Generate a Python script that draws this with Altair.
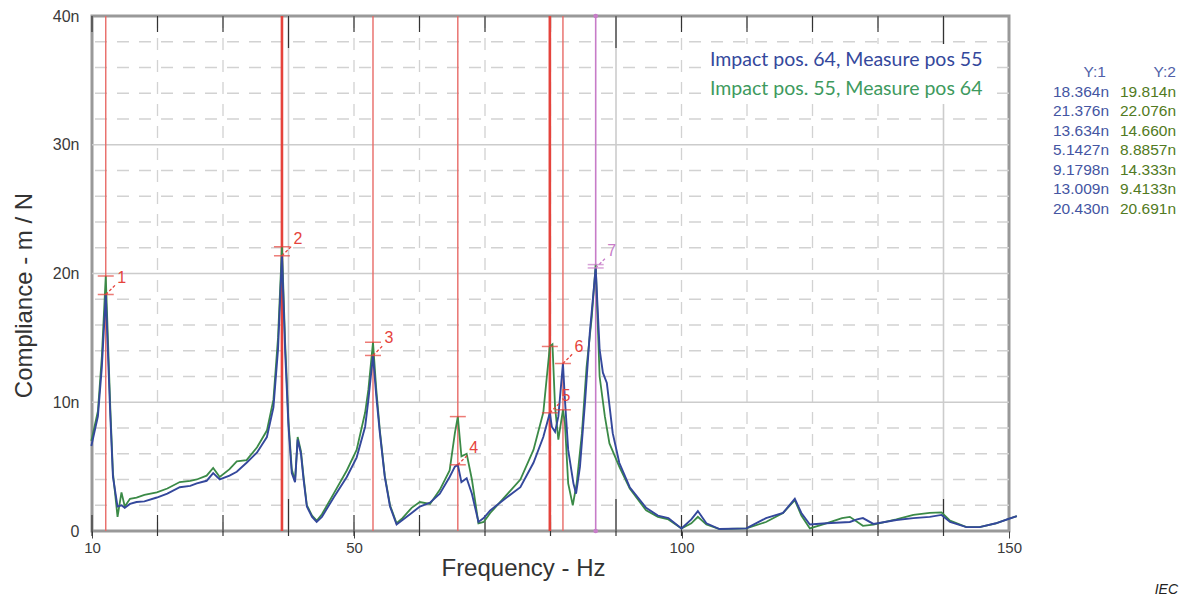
import altair as alt
import pandas as pd

# ---------------- data ----------------
blue_f = [9.9, 10.9, 11.5, 12.1, 12.8, 13.2, 13.9, 14.5, 15.0, 15.8, 16.8, 18.0, 19.9, 21.5, 23.4,
          25.0, 26.0, 27.5, 28.5, 29.5, 31.0, 32.1, 33.6, 35.2, 36.7, 37.7, 38.4, 39.0, 39.5, 40.0,
          40.5, 41.0, 41.4, 41.9, 42.3, 42.8, 43.6, 44.3, 45.1, 46.9, 48.9, 50.4, 51.7, 52.2, 52.9,
          53.4, 53.95, 54.7, 55.5, 56.5, 57.4, 58.8, 60.05, 61.6, 63.1, 64.6, 65.4, 65.85, 66.4, 67.2,
          68.0, 69.0, 69.8, 70.8, 73.3, 75.4, 77.4, 78.9, 79.9, 80.2, 80.7, 81.2, 81.9, 82.2, 82.7,
          83.5, 83.9, 84.5, 85.3, 86.0, 86.9, 87.5, 88.0, 88.6, 89.5, 90.5, 92.1, 94.6, 96.4, 98.0,
          100.0, 101.5, 102.5, 103.8, 105.8, 109.9, 112.9, 115.5, 117.3, 118.3, 119.6, 122.1, 125.7,
          126.8, 127.7, 129.3, 132.8, 135.4, 137.9, 139.7, 141.0, 143.5, 145.5, 148.0, 150.0, 151.2]
blue_v = [6.6, 8.9, 12.7, 18.36, 8.9, 4.2, 1.9, 2.0, 1.8, 2.1, 2.25, 2.3, 2.6, 2.9, 3.4,
          3.5, 3.7, 3.9, 4.5, 4.0, 4.3, 4.6, 5.3, 6.1, 7.3, 9.6, 14.1, 21.38, 13.8, 8.1,
          4.5, 3.8, 7.1, 6.0, 4.0, 1.9, 1.1, 0.7, 1.1, 2.6, 4.2, 5.7, 8.1, 10.2, 13.63,
          10.5, 7.6, 4.2, 1.9, 0.5, 0.85, 1.4, 1.9, 2.2, 2.9, 4.2, 5.0, 5.14, 3.8, 4.1,
          2.9, 0.7, 1.0, 1.6, 2.6, 3.4, 5.3, 7.3, 9.18, 8.1, 7.7, 8.9, 13.01, 10.2, 6.3,
          3.7, 2.9, 5.0, 10.2, 15.4, 20.43, 14.1, 12.3, 11.5, 7.6, 5.3, 3.4, 1.8, 1.2, 1.0,
          0.2, 0.9, 1.55, 0.6, 0.15, 0.2, 1.0, 1.4, 2.5, 1.4, 0.5, 0.6, 0.7,
          0.9, 1.0, 0.55, 0.85, 1.0, 1.1, 1.25, 0.7, 0.3, 0.3, 0.6, 0.95, 1.15]

green_f = [9.9, 10.9, 11.5, 12.1, 12.8, 13.2, 13.9, 14.5, 15.0, 15.8, 16.8, 18.0, 19.9, 21.5, 23.4,
           25.0, 26.0, 27.5, 28.5, 29.5, 31.0, 32.1, 33.6, 35.2, 36.7, 37.7, 38.4, 39.0, 39.5, 40.0,
           40.5, 41.0, 41.4, 41.9, 42.3, 42.8, 43.6, 44.3, 45.1, 46.9, 48.9, 50.4, 51.7, 52.2, 52.9,
           53.4, 53.95, 54.7, 55.5, 56.5, 57.4, 58.8, 60.05, 61.6, 63.1, 64.6, 65.4, 65.85, 66.4, 67.2,
           68.0, 69.0, 69.8, 70.8, 73.3, 75.4, 77.4, 78.9, 79.9, 80.3, 80.7, 81.2, 81.9, 82.2, 82.7,
           83.4, 84.0, 84.8, 85.5, 86.3, 86.9, 87.5, 88.3, 89.0, 90.5, 92.1, 94.6, 96.4, 98.0,
           100.0, 101.5, 102.5, 103.8, 105.8, 109.9, 112.9, 115.5, 117.3, 118.3, 119.6, 122.1, 124.5,
           125.7, 127.7, 129.3, 132.8, 135.4, 137.9, 139.7, 141.0, 143.5, 145.5, 148.0, 150.0, 151.2]
green_v = [7.0, 9.3, 13.5, 19.81, 9.5, 4.5, 1.1, 3.0, 1.9, 2.5, 2.6, 2.8, 3.0, 3.3, 3.8,
           3.9, 4.0, 4.3, 4.9, 4.2, 4.8, 5.4, 5.5, 6.5, 7.8, 10.2, 15.0, 22.08, 14.5, 8.5,
           4.8, 3.9, 7.3, 6.2, 4.2, 2.0, 1.2, 0.8, 1.3, 2.9, 4.7, 6.3, 9.2, 11.0, 14.66,
           11.0, 7.8, 4.3, 2.0, 0.6, 1.0, 1.8, 2.25, 2.1, 3.2, 4.7, 7.6, 8.89, 5.8, 6.0,
           4.0, 0.6, 0.7, 1.4, 2.8, 4.0, 6.3, 9.2, 14.33, 14.5, 9.6, 7.1, 9.41, 8.4, 3.7,
           2.0, 3.7, 7.6, 12.7, 16.6, 20.69, 12.0, 8.9, 6.8, 5.0, 3.3, 1.6, 1.1, 0.9,
           0.2, 0.6, 1.1, 0.5, 0.15, 0.2, 0.7, 1.4, 2.4, 1.2, 0.2, 0.6, 1.0,
           1.1, 0.4, 0.5, 0.9, 1.25, 1.4, 1.45, 0.8, 0.3, 0.3, 0.6, 0.95, 1.15]

marker_ids = ["1", "2", "3", "4", "5", "6", "7"]
marker_f = [12.1, 39.0, 52.9, 65.85, 79.9, 81.9, 86.9]
marker_y1 = [18.364, 21.376, 13.634, 5.1427, 9.1798, 13.009, 20.430]
marker_y2 = [19.814, 22.076, 14.660, 8.8857, 14.333, 9.4133, 20.691]
table_y1 = ["18.364n", "21.376n", "13.634n", "5.1427n", "9.1798n", "13.009n", "20.430n"]
table_y2 = ["19.814n", "22.076n", "14.660n", "8.8857n", "14.333n", "9.4133n", "20.691n"]

series_names = ["Impact pos. 64, Measure pos 55", "Impact pos. 55, Measure pos 64"]

grid_x_dashed = [20, 30, 50, 60, 70, 80, 100, 110, 120, 130]
grid_x_solid = [40, 90, 140]
grid_y_dashed = [2, 4, 6, 8, 12, 14, 16, 18, 22, 24, 26, 28, 32, 34, 36, 38]
grid_y_solid = [10, 20, 30]
inner_ticks = [10, 20, 30, 50, 60, 70, 80, 100, 110, 120, 130]
x_tick_values = [10, 50, 100, 150]
y_tick_values = [0, 10, 20, 30, 40]

# ---------------- styling ----------------
W, H = 917, 515
BLUE = "#34489c"
GREEN = "#3b8a47"
RED = "#e5433c"
RED_THIN = "#e86a66"
PINK = "#c77cc8"
GRID = "#d2d2d2"
GRID_SOLID = "#cccccc"

xs = alt.Scale(domain=[10, 150], nice=False, zero=False)
ys = alt.Scale(domain=[0, 40], nice=False, zero=False)

AX = alt.Axis(values=x_tick_values, title="Frequency - Hz", domain=False, grid=False,
              tickSize=7, tickColor="#444444", tickWidth=1, labelPadding=2, labelFlush=False,
              labelFont="Liberation Sans", labelFontSize=15, labelColor="#3a3a3a",
              titleFont="Liberation Sans", titleFontSize=24, titleFontWeight="normal",
              titleColor="#333333", titleX=431, titleY=44, titleAlign="center",
              titleBaseline="alphabetic")
AY = alt.Axis(values=y_tick_values, title="Compliance - m / N", domain=False, grid=False,
              ticks=False, labelPadding=13, labelFlush=False,
              labelExpr="datum.value == 0 ? '0' : datum.value + 'n'",
              labelFont="Liberation Sans", labelFontSize=16, labelColor="#3a3a3a",
              titleFont="Liberation Sans", titleFontSize=24, titleFontWeight="normal",
              titleColor="#333333", titleAngle=-90, titleX=-61, titleY=279,
              titleAlign="center", titleBaseline="alphabetic")


def X(field):
    return alt.X(field, scale=xs, axis=AX, title="Frequency - Hz")


def Y(field):
    return alt.Y(field, scale=ys, axis=AY, title="Compliance - m / N")


def one():
    return pd.DataFrame({"a": [0]})


layers = []

# grid lines
layers.append(alt.Chart(pd.DataFrame({"f": grid_x_dashed})).mark_rule(
    color=GRID, strokeWidth=1.3, strokeDash=[12, 10]).encode(x=X("f:Q")))
layers.append(alt.Chart(pd.DataFrame({"f": grid_x_solid})).mark_rule(
    color=GRID_SOLID, strokeWidth=1.6).encode(x=X("f:Q")))
layers.append(alt.Chart(pd.DataFrame({"v": grid_y_dashed})).mark_rule(
    color=GRID, strokeWidth=1.3, strokeDash=[12, 10]).encode(y=Y("v:Q")))
layers.append(alt.Chart(pd.DataFrame({"v": grid_y_solid})).mark_rule(
    color=GRID_SOLID, strokeWidth=1.6).encode(y=Y("v:Q")))

# inner ticks (top and bottom)
for vals, ln in ((inner_ticks, 16), (grid_x_solid, 32)):
    df = pd.DataFrame({"f": vals})
    layers.append(alt.Chart(df).mark_rule(color="#333333", strokeWidth=1.2).encode(
        x=X("f:Q"), y=alt.value(0), y2=alt.value(ln)))
    layers.append(alt.Chart(df).mark_rule(color="#333333", strokeWidth=1.2).encode(
        x=X("f:Q"), y=alt.value(H - ln), y2=alt.value(H + 5)))

# legend background
layers.append(alt.Chart(one()).mark_rect(color="white").encode(
    x=alt.value(611), x2=alt.value(905), y=alt.value(28), y2=alt.value(88)))

# marker lines
mk = pd.DataFrame({"id": marker_ids, "f": marker_f, "y1": marker_y1, "y2": marker_y2})
mk["col"] = [RED_THIN, RED, RED_THIN, RED_THIN, RED, RED_THIN, PINK]
mk["sw"] = [1.4, 2.6, 1.4, 1.4, 2.6, 1.4, 1.6]
mk["lc"] = [RED, RED, RED, RED, RED, RED, PINK]
layers.append(alt.Chart(mk).mark_rule().encode(
    x=X("f:Q"),
    color=alt.Color("col:N", scale=None),
    strokeWidth=alt.StrokeWidth("sw:Q", scale=None)))

# curves
gdf = pd.DataFrame({"f": green_f, "v": green_v})
bdf = pd.DataFrame({"f": blue_f, "v": blue_v})
layers.append(alt.Chart(gdf).mark_line(color=GREEN, strokeWidth=1.8, clip=False).encode(
    x=X("f:Q"), y=Y("v:Q")))
layers.append(alt.Chart(bdf).mark_line(color=BLUE, strokeWidth=1.9, clip=False).encode(
    x=X("f:Q"), y=Y("v:Q")))

# crossbars
cb = pd.concat([
    pd.DataFrame({"f": marker_f, "v": marker_y1, "lc": mk["lc"]}),
    pd.DataFrame({"f": marker_f, "v": marker_y2, "lc": mk["lc"]}),
])
layers.append(alt.Chart(cb).mark_tick(orient="horizontal", size=16, thickness=1.5).encode(
    x=X("f:Q"), y=Y("v:Q"), color=alt.Color("lc:N", scale=None)))

# leaders and labels
layers.append(alt.Chart(mk).mark_rule(strokeDash=[3, 2], strokeWidth=1.3, x2Offset=10, y2Offset=-10).encode(
    x=X("f:Q"), x2="f:Q", y=Y("y1:Q"), y2="y1:Q",
    color=alt.Color("lc:N", scale=None)))
layers.append(alt.Chart(mk).mark_text(dx=16, dy=-17, font="Liberation Sans", fontSize=16,
                                      align="center", baseline="middle").encode(
    x=X("f:Q"), y=Y("y1:Q"), text="id:N", color=alt.Color("lc:N", scale=None)))

# pink dots on marker 7
pk = mk[mk["id"] == "7"]
for yy in (0, H):
    layers.append(alt.Chart(pk).mark_point(filled=True, size=22, color=PINK, opacity=1).encode(
        x=X("f:Q"), y=alt.value(yy)))

# legend texts
for i, (name, col) in enumerate(zip(series_names, [BLUE, "#3e9a5e"])):
    layers.append(alt.Chart(one()).mark_text(align="left", baseline="middle", font="Lato",
                                             fontSize=19.5, color=col).encode(
        x=alt.value(618), y=alt.value(44 + i * 29), text=alt.value(name)))

# right-side table
TX1, TX2, TY0, TDY = 1017, 1084, 56, 19.55
for hdr, xx in (("Y:1", TX1 - 3), ("Y:2", TX2)):
    layers.append(alt.Chart(one()).mark_text(align="right", baseline="middle", font="Liberation Sans",
                                             fontSize=15.5, color="#5060a8").encode(
        x=alt.value(xx), y=alt.value(TY0), text=alt.value(hdr)))
for i in range(len(table_y1)):
    layers.append(alt.Chart(one()).mark_text(align="right", baseline="middle", font="Liberation Sans",
                                             fontSize=15.5, color="#4455a2").encode(
        x=alt.value(TX1), y=alt.value(TY0 + (i + 1) * TDY), text=alt.value(table_y1[i])))
    layers.append(alt.Chart(one()).mark_text(align="right", baseline="middle", font="Liberation Sans",
                                             fontSize=15.5, color="#517a22").encode(
        x=alt.value(TX2), y=alt.value(TY0 + (i + 1) * TDY), text=alt.value(table_y2[i])))

layers.append(alt.Chart(one()).mark_text(align="right", baseline="middle", font="Liberation Sans",
                                         fontSize=14, fontStyle="italic", color="#222222").encode(
    x=alt.value(1086), y=alt.value(574), text=alt.value("IEC")))

chart = alt.layer(*layers).properties(
    width=W, height=H, autosize="none",
    padding={"left": 92, "top": 16, "right": 178, "bottom": 67},
    background="white",
).configure_view(stroke="#999999", strokeWidth=3)

chart.save("out.html", embed_options={"renderer": "svg", "actions": False})
